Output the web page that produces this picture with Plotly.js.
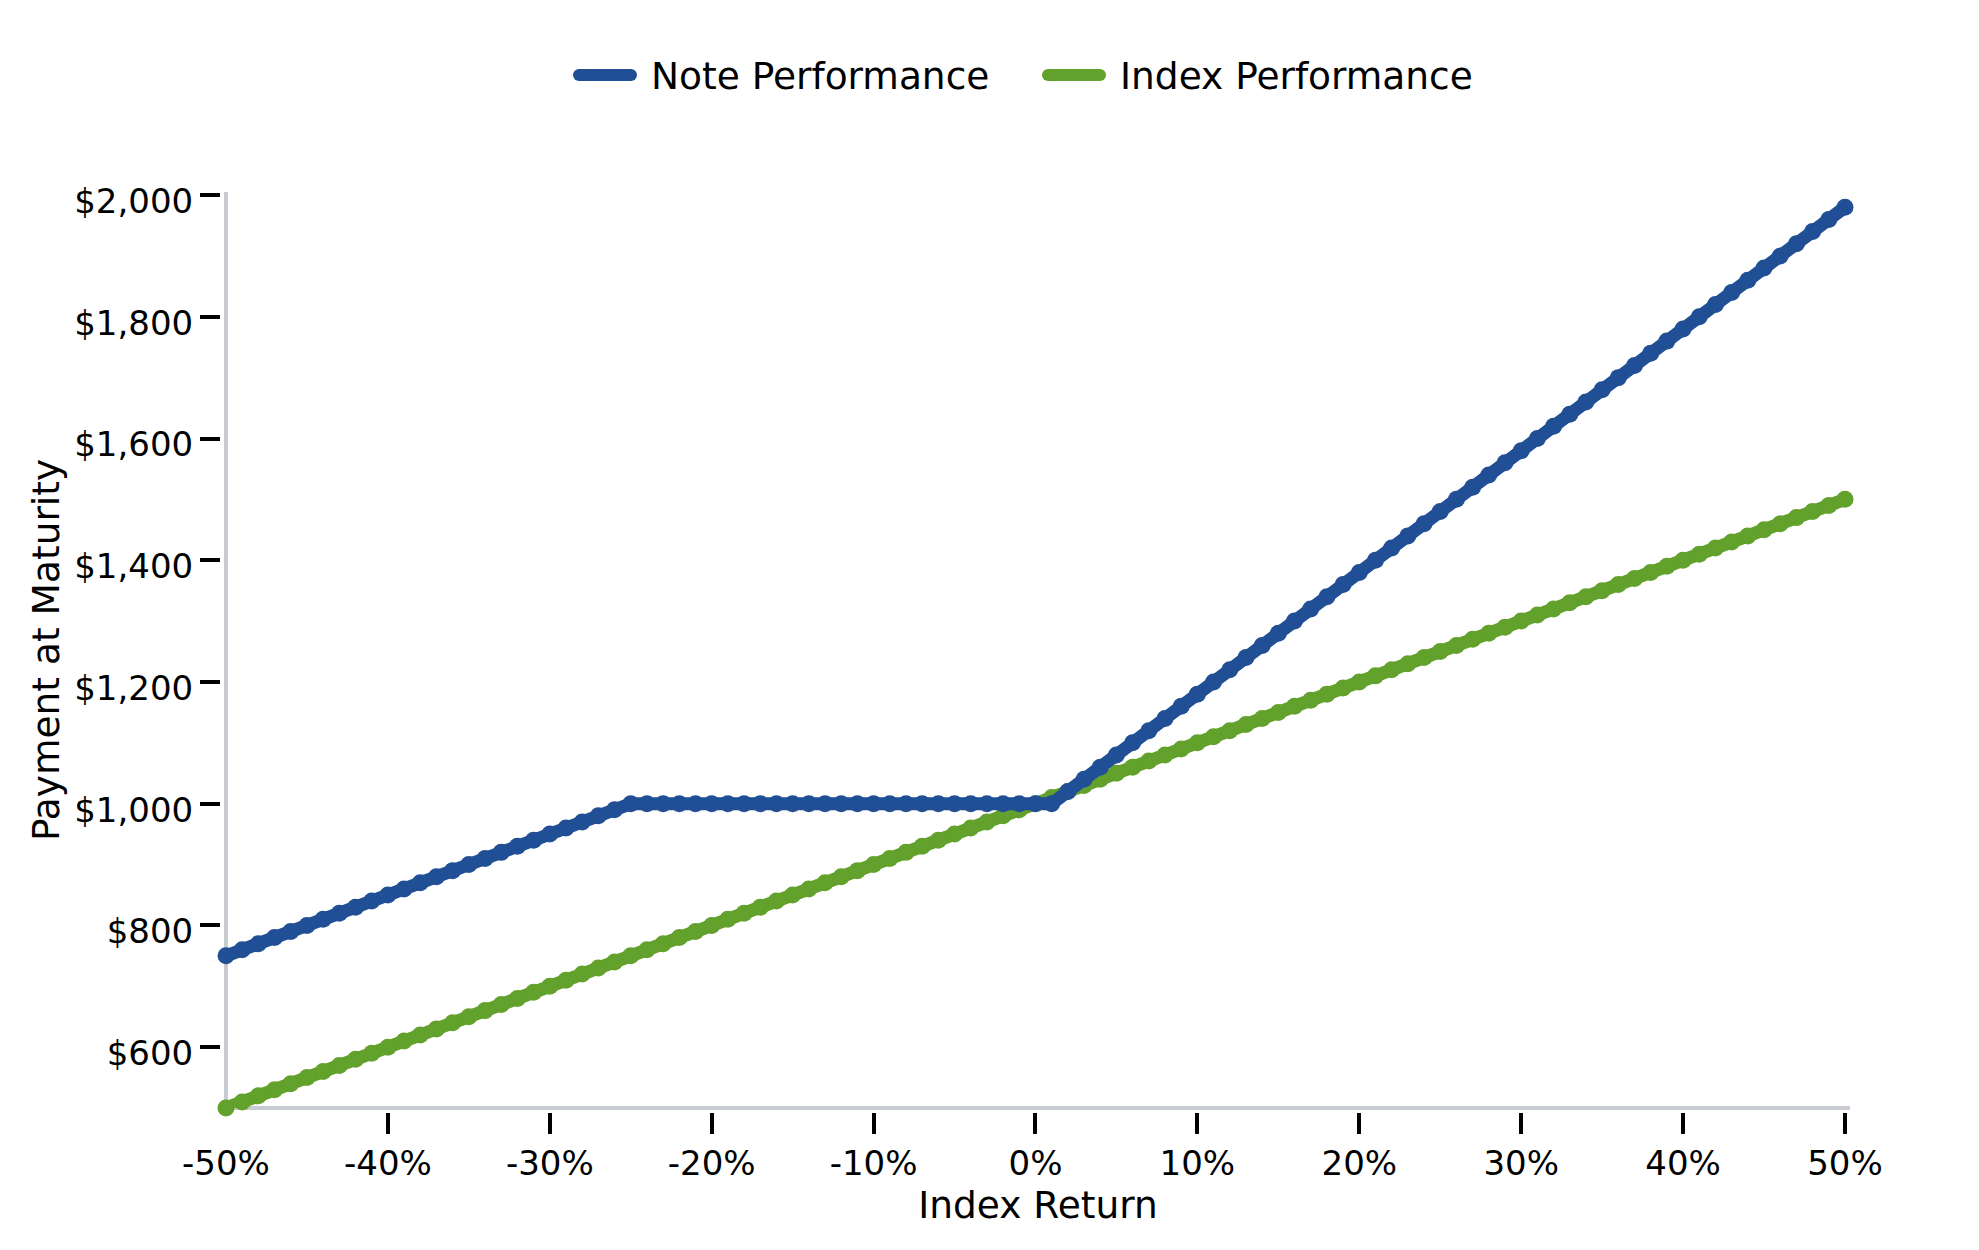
<!DOCTYPE html>
<html>
<head>
<meta charset="utf-8">
<script src="https://cdn.plot.ly/plotly-3.0.1.min.js"></script>
<style>html,body{margin:0;padding:0;background:#fff;}</style>
</head>
<body>
<div id="chart" style="width:1979px;height:1250px;"></div>
<script>
// ---- data ----
const indexReturn = [-50,-49,-48,-47,-46,-45,-44,-43,-42,-41,-40,-39,-38,-37,-36,-35,-34,-33,-32,-31,-30,-29,-28,-27,-26,-25,-24,-23,-22,-21,-20,-19,-18,-17,-16,-15,-14,-13,-12,-11,-10,-9,-8,-7,-6,-5,-4,-3,-2,-1,0,1,2,3,4,5,6,7,8,9,10,11,12,13,14,15,16,17,18,19,20,21,22,23,24,25,26,27,28,29,30,31,32,33,34,35,36,37,38,39,40,41,42,43,44,45,46,47,48,49,50];
const notePerformance = [750,760,770,780,790,800,810,820,830,840,850,860,870,880,890,900,910,920,930,940,950,960,970,980,990,1000,1000,1000,1000,1000,1000,1000,1000,1000,1000,1000,1000,1000,1000,1000,1000,1000,1000,1000,1000,1000,1000,1000,1000,1000,1000,1000,1020,1040,1060,1080,1100,1120,1140,1160,1180,1200,1220,1240,1260,1280,1300,1320,1340,1360,1380,1400,1420,1440,1460,1480,1500,1520,1540,1560,1580,1600,1620,1640,1660,1680,1700,1720,1740,1760,1780,1800,1820,1840,1860,1880,1900,1920,1940,1960,1980];
const indexPerformance = [500,510,520,530,540,550,560,570,580,590,600,610,620,630,640,650,660,670,680,690,700,710,720,730,740,750,760,770,780,790,800,810,820,830,840,850,860,870,880,890,900,910,920,930,940,950,960,970,980,990,1000,1010,1020,1030,1040,1050,1060,1070,1080,1090,1100,1110,1120,1130,1140,1150,1160,1170,1180,1190,1200,1210,1220,1230,1240,1250,1260,1270,1280,1290,1300,1310,1320,1330,1340,1350,1360,1370,1380,1390,1400,1410,1420,1430,1440,1450,1460,1470,1480,1490,1500];
const seriesNames = ["Note Performance", "Index Performance"];
const xTickVals = [-40,-30,-20,-10,0,10,20,30,40,50];
const xTickText = ["-40%","-30%","-20%","-10%","0%","10%","20%","30%","40%","50%"];
const xFirstTickVal = [-50];
const xFirstTickText = ["-50%"];
const yTickVals = [600,800,1000,1200,1400,1600,1800,2000];
const yTickText = ["$600","$800","$1,000","$1,200","$1,400","$1,600","$1,800","$2,000"];
const axisTitles = {x: "Index Return", y: "Payment at Maturity"};

// ---- styling ----
const BLUE = "#214f95";
const GREEN = "#62a12b";
const SPINE = "#c8ccd0";
const FONT = "DejaVu Sans, Verdana, sans-serif";
const W = 1979, H = 1250;
const L = 220, R = 1850, T = 192, B = 1112;
const pxX = p => (p - L) / (R - L);
const pxY = q => (B - q) / (B - T);
const xDomStart = pxX(226);
const yDomStart = pxY(1108);
const xRange = [-50, 50.31];
const yRange = [500, 2005];

const traces = [
  {x: indexReturn, y: indexPerformance, name: seriesNames[1], type: "scatter", mode: "lines+markers",
   line: {color: GREEN, width: 13}, marker: {color: GREEN, size: 17}, cliponaxis: false, hoverinfo: "x+y"},
  {x: indexReturn, y: notePerformance, name: seriesNames[0], type: "scatter", mode: "lines+markers",
   line: {color: BLUE, width: 13}, marker: {color: BLUE, size: 17}, cliponaxis: false, hoverinfo: "x+y"}
];

const tickFont = {family: FONT, size: 34, color: "#000"};
const titleFont = {family: FONT, size: 37.5, color: "#000"};

function legendItem(cx, textX, color, label) {
  const cy = 75;
  return {
    shapes: [
      {type: "line", xref: "paper", yref: "paper", x0: pxX(cx - 26), x1: pxX(cx + 26), y0: pxY(cy), y1: pxY(cy),
       line: {color: color, width: 12}},
      {type: "circle", xref: "paper", yref: "paper", xsizemode: "pixel", ysizemode: "pixel",
       xanchor: pxX(cx - 26), yanchor: pxY(cy), x0: -6, x1: 6, y0: -6, y1: 6, fillcolor: color, line: {width: 0}},
      {type: "circle", xref: "paper", yref: "paper", xsizemode: "pixel", ysizemode: "pixel",
       xanchor: pxX(cx + 26), yanchor: pxY(cy), x0: -6, x1: 6, y0: -6, y1: 6, fillcolor: color, line: {width: 0}}
    ],
    annotation: {xref: "paper", yref: "paper", x: pxX(textX), y: pxY(cy + 1), xanchor: "left", yanchor: "middle",
      text: label, showarrow: false, font: titleFont}
  };
}
const leg1 = legendItem(605, 649, BLUE, seriesNames[0]);
const leg2 = legendItem(1074, 1118, GREEN, seriesNames[1]);

const layout = {
  width: W, height: H,
  margin: {l: L, r: W - R, t: T, b: H - B, pad: 0},
  paper_bgcolor: "#fff", plot_bgcolor: "#fff",
  showlegend: false,
  font: {family: FONT, color: "#000"},
  xaxis: {
    domain: [xDomStart, 1], range: xRange, anchor: "free", position: 0,
    showline: false, showgrid: false, zeroline: false,
    ticks: "outside", ticklen: 21, tickwidth: 4, tickcolor: "#000",
    tickmode: "array", tickvals: xTickVals, ticktext: xTickText, tickfont: tickFont,
    title: {text: axisTitles.x, font: titleFont, standoff: 7}
  },
  xaxis2: {
    overlaying: "x", domain: [xDomStart, 1], range: xRange, anchor: "free", position: 0,
    showline: false, showgrid: false, zeroline: false,
    ticks: "outside", ticklen: 21, tickwidth: 4, tickcolor: "rgba(0,0,0,0)",
    tickmode: "array", tickvals: xFirstTickVal, ticktext: xFirstTickText, tickfont: tickFont
  },
  yaxis: {
    domain: [yDomStart, 1], range: yRange, anchor: "free", position: 0,
    showline: false, showgrid: false, zeroline: false,
    ticks: "outside", ticklen: 20, tickwidth: 4, tickcolor: "#000",
    tickmode: "array", tickvals: yTickVals, ticktext: yTickText, tickfont: tickFont,
    ticklabelshift: 6,
    title: {text: axisTitles.y, font: titleFont, standoff: 2}
  },
  shapes: [
    {type: "line", xref: "paper", yref: "paper", x0: pxX(224), x1: 1, y0: yDomStart, y1: yDomStart,
     line: {color: SPINE, width: 4}, layer: "below"},
    {type: "line", xref: "paper", yref: "paper", x0: xDomStart, x1: xDomStart, y0: yDomStart, y1: 1,
     line: {color: SPINE, width: 4}, layer: "below"}
  ].concat(leg1.shapes, leg2.shapes),
  annotations: [leg1.annotation, leg2.annotation]
};

// empty trace so the overlaid axis carrying the "-50%" label is drawn
traces.push({x: [null], y: [null], xaxis: "x2", yaxis: "y", type: "scatter", mode: "lines", showlegend: false, hoverinfo: "skip"});

Plotly.newPlot("chart", traces, layout, {displayModeBar: false, staticPlot: true});
</script>
</body>
</html>
